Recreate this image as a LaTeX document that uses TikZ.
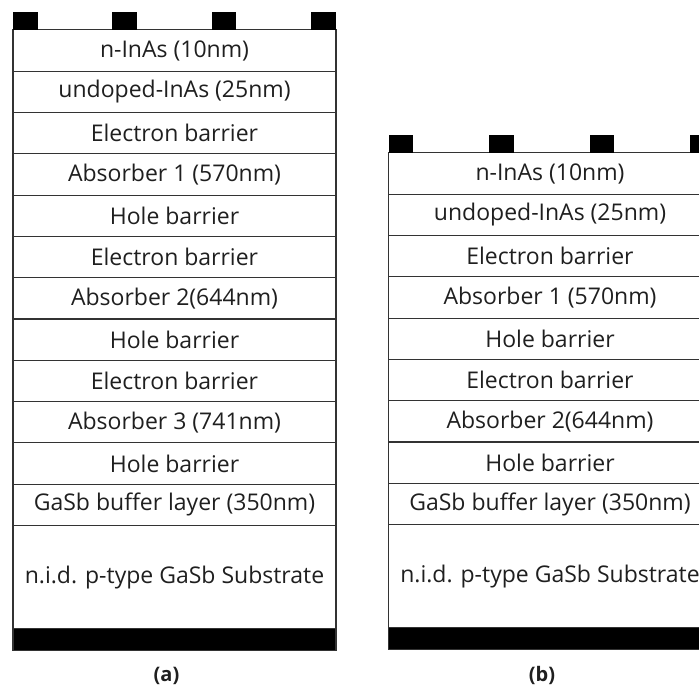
\documentclass[tikz,border=0pt]{standalone}
\usepackage{fontspec}
\setmainfont{Open Sans}
\usetikzlibrary{positioning}
\tikzset{
	layer/.style={draw=black!80, line width=1.1pt, minimum width=323pt,
		minimum height=41.3pt, inner sep=0pt, outer sep=0pt,
		text=black!88, font=\fontsize{23}{26}\selectfont},
	subsbox/.style={layer, minimum height=103pt},
	contact/.style={fill=black, minimum width=24.5pt, minimum height=18pt,
		inner sep=0pt, outer sep=0pt},
	backcontact/.style={fill=black, draw=black!80, line width=1.1pt,
		minimum width=323pt, minimum height=22pt, inner sep=0pt, outer sep=0pt},
	caption/.style={font=\fontsize{20}{24}\selectfont\bfseries, text=black!88},
}
\begin{document}
\begin{tikzpicture}[x=1pt,y=-1pt]
	\path[use as bounding box] (0,0) rectangle (699,692);
	\clip (0,0) rectangle (699,692);
	% (a) three absorbers
	\node[layer] (a1) at (174.5,50.6) {n-InAs (10nm)};
	\foreach \txt [count=\i from 2] in {{undoped-InAs (25nm)},{Electron barrier},
		{Absorber 1 (570nm)},{Hole barrier},{Electron barrier},{Absorber 2(644nm)},
		{Hole barrier},{Electron barrier},{Absorber 3 (741nm)},{Hole barrier},
		{GaSb buffer layer (350nm)}}{
		\pgfmathtruncatemacro{\prev}{\i-1}
		\node[layer, below=0pt of a\prev] (a\i) {\txt};
	}
	\node[subsbox, below=0pt of a12] (asub) {n.i.d. p-type GaSb Substrate};
	\node[backcontact, below=0pt of asub] (aback) {};
	\foreach \k in {0,...,3}
		\node[contact, anchor=south west] (ca\k) at ([xshift=\k*99.4pt]a1.north west) {};
	\node[caption, below=13pt of aback, xshift=-8pt] (acap) {(a)};
	% (b) two absorbers
	\node[layer] (b1) at (550,173.6) {n-InAs (10nm)};
	\foreach \txt [count=\i from 2] in {{undoped-InAs (25nm)},{Electron barrier},
		{Absorber 1 (570nm)},{Hole barrier},{Electron barrier},{Absorber 2(644nm)},
		{Hole barrier},{GaSb buffer layer (350nm)}}{
		\pgfmathtruncatemacro{\prev}{\i-1}
		\node[layer, below=0pt of b\prev] (b\i) {\txt};
	}
	\node[subsbox, below=0pt of b9] (bsub) {n.i.d. p-type GaSb Substrate};
	\node[backcontact, below=0pt of bsub] (bback) {};
	\foreach \k in {0,...,3}
		\node[contact, anchor=south west] (cb\k) at ([xshift=\k*100.5pt]b1.north west) {};
	\node[caption, below=13pt of bback, xshift=-8pt] (bcap) {(b)};
\end{tikzpicture}
\end{document}
